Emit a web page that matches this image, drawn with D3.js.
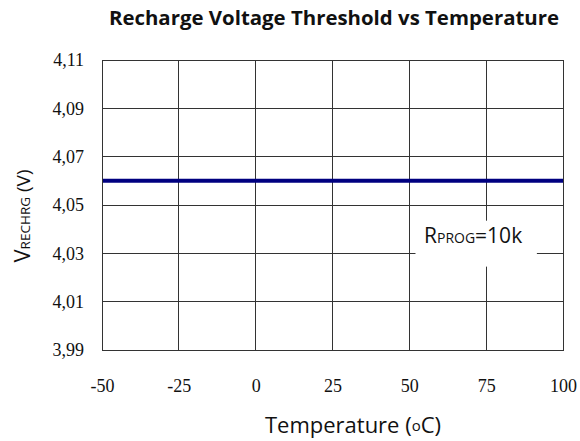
<!DOCTYPE html>
<html><head><meta charset="utf-8">
<script src="https://cdn.jsdelivr.net/npm/d3@7"></script>
<style>body{margin:0;background:#fff}</style>
</head><body>
<svg id="c" width="580" height="441"></svg>
<script>
const temperatures = [-50, -25, 0, 25, 50, 75, 100];
const vRecharge = [4.06, 4.06, 4.06, 4.06, 4.06, 4.06, 4.06];
const xTicks = [-50, -25, 0, 25, 50, 75, 100];
const yTicks = [3.99, 4.01, 4.03, 4.05, 4.07, 4.09, 4.11];
const titleText = "Recharge Voltage Threshold vs Temperature";

const svg = d3.select("#c");
const L = 102, R = 563, T = 60, B = 350;
const x = d3.scaleLinear().domain([-50, 100]).range([L, R]);
const y = d3.scaleLinear().domain([3.99, 4.11]).range([B, T]);

const serif = "'Liberation Serif', serif";
const sans = "'Open Sans', 'DejaVu Sans', sans-serif";

// grid
svg.append("g").selectAll("line").data(xTicks).join("line")
  .attr("x1", d => x(d)).attr("x2", d => x(d)).attr("y1", T).attr("y2", B)
  .attr("stroke", "#333").attr("stroke-width", 1).attr("shape-rendering", "crispEdges");
svg.append("g").selectAll("line").data(yTicks).join("line")
  .attr("x1", L).attr("x2", R).attr("y1", d => y(d)).attr("y2", d => y(d))
  .attr("stroke", "#333").attr("stroke-width", 1).attr("shape-rendering", "crispEdges");

// axes (labels only)
const xAxis = d3.axisBottom(x).tickValues(xTicks).tickSize(0).tickPadding(0).tickFormat(d => String(d));
const gx = svg.append("g").attr("transform", `translate(0,${B})`).call(xAxis);
gx.select(".domain").remove();
gx.attr("font-family", null).attr("font-size", null);
gx.selectAll("text").style("font-family", serif).style("font-size", "18px").attr("fill", "#111")
  .attr("dy", null).attr("y", 42);

const yAxis = d3.axisLeft(y).tickValues(yTicks).tickSize(0).tickPadding(18)
  .tickFormat(d => d3.format(".2f")(d).replace(".", ","));
const gy = svg.append("g").attr("transform", `translate(${L},0)`).call(yAxis);
gy.select(".domain").remove();
gy.attr("font-family", null).attr("font-size", null);
gy.selectAll("text").style("font-family", serif).style("font-size", "18px").attr("fill", "#111");

// data line
svg.append("path").datum(temperatures.map((t, i) => [t, vRecharge[i]]))
  .attr("d", d3.line().x(d => x(d[0])).y(d => y(d[1])))
  .attr("fill", "none").attr("stroke", "#000080").attr("stroke-width", 4);

// legend label box
const lb = svg.append("g");
lb.append("rect").attr("x", x(52)).attr("y", y(4.0435)).attr("width", x(91.5) - x(52))
  .attr("height", y(4.0245) - y(4.0435)).attr("fill", "#fff");
const lt = lb.append("text").attr("x", 424).attr("y", 243).style("font-family", sans).attr("fill", "#111");
lt.append("tspan").style("font-size", "21px").text("R");
lt.append("tspan").style("font-size", "14px").text("PROG");
lt.append("tspan").style("font-size", "21px").text("=10k");

// border
svg.append("rect").attr("x", L).attr("y", T).attr("width", R - L).attr("height", B - T)
  .attr("fill", "none").attr("stroke", "#333").attr("stroke-width", 1).attr("shape-rendering", "crispEdges");

// title
svg.append("text").attr("x", 334).attr("y", 25).attr("text-anchor", "middle")
  .style("font-family", sans).style("font-weight", "bold").style("font-size", "20.4px").attr("fill", "#111")
  .text(titleText);

// x title
const xt = svg.append("text").attr("x", 353).attr("y", 433).attr("text-anchor", "middle")
  .style("font-family", sans).style("font-size", "22px").attr("fill", "#111");
xt.append("tspan").text("Temperature (");
xt.append("tspan").style("font-size", "15px").attr("dy", -2).text("o");
xt.append("tspan").attr("dy", 2).text("C)");

// y title
const yt = svg.append("text").attr("transform", "translate(30,216) rotate(-90)").attr("text-anchor", "middle")
  .style("font-family", sans).style("font-size", "19px").attr("fill", "#111");
yt.append("tspan").style("font-size", "22px").text("V");
yt.append("tspan").style("font-size", "13.5px").text("RECHRG");
yt.append("tspan").text(" (V)");
</script>
</body></html>
